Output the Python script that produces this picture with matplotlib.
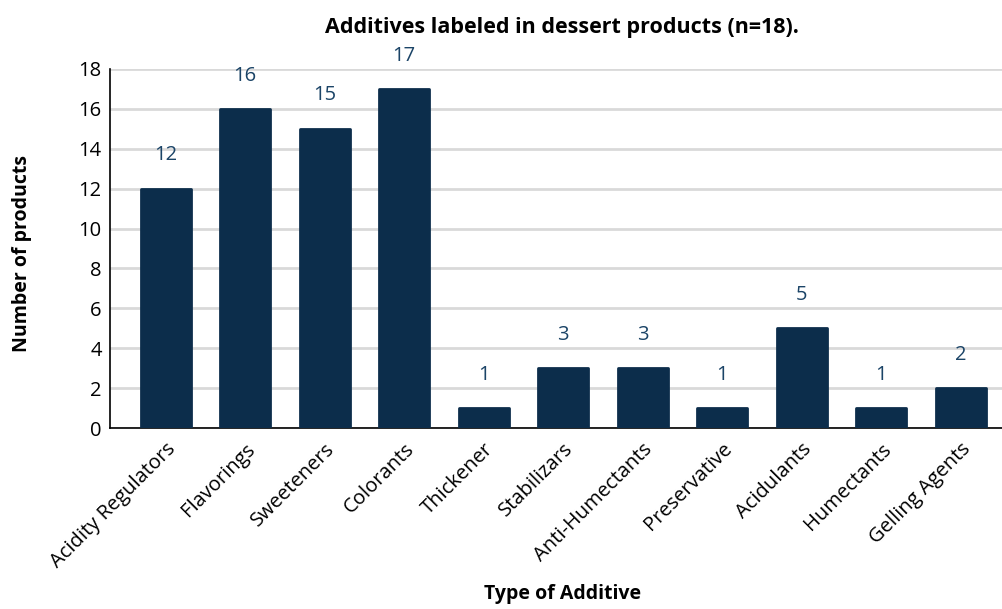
import matplotlib
matplotlib.use("Agg")
import matplotlib.pyplot as plt

categories = ["Acidity Regulators", "Flavorings", "Sweeteners", "Colorants", "Thickener",
              "Stabilizars", "Anti-Humectants", "Preservative", "Acidulants", "Humectants",
              "Gelling Agents"]
values = [12, 16, 15, 17, 1, 3, 3, 1, 5, 1, 2]
yticks = [0, 2, 4, 6, 8, 10, 12, 14, 16, 18]

plt.rcParams['font.family'] = ['Open Sans', 'DejaVu Sans']

bar_color = "#0c2d4b"
label_color = "#1b4467"

fig = plt.figure(figsize=(10.03, 6.09), dpi=100)
ax = fig.add_axes([110/1003, 181/609, 893/1003, 359/609])

x = list(range(len(categories)))
bars = ax.bar(x, values, width=0.63, color=bar_color, edgecolor=bar_color,
              linewidth=2, joinstyle='round', zorder=3)

for xi, v in zip(x, values):
    ax.annotate(str(v), (xi, v), xytext=(0, 24), textcoords='offset points',
                ha='center', va='center', fontsize=14.5, color=label_color)

ax.set_xlim(-0.7, 10.53)
ax.set_ylim(0, 18)
ax.set_yticks(yticks)
ax.set_yticklabels([str(t) for t in yticks], fontsize=14.5)
ax.set_xticks(x)
ax.set_xticklabels(categories, rotation=45, ha='right', rotation_mode='anchor', fontsize=14.5)
ax.tick_params(axis='both', length=0, pad=6)
ax.tick_params(axis='x', pad=8)

ax.grid(axis='y', color='#d9d9d9', linewidth=2, zorder=0)
ax.set_axisbelow(True)
for s in ['top', 'right']:
    ax.spines[s].set_visible(False)
ax.spines['left'].set_color('black')
ax.spines['bottom'].set_color('black')
ax.spines['left'].set_linewidth(1.2)
ax.spines['bottom'].set_linewidth(1.2)

fig.text(562/1003, 1 - 28/609, "Additives labeled in dessert products (n=18).",
         ha='center', va='center', fontsize=15.5, fontweight='bold')
fig.text(563/1003, 1 - 594/609, "Type of Additive", ha='center', va='center',
         fontsize=14, fontweight='bold')
fig.text(22/1003, 1 - 253/609, "Number of products", ha='center', va='center',
         rotation=90, fontsize=14, fontweight='bold')

fig.savefig("out.png", dpi=100)
